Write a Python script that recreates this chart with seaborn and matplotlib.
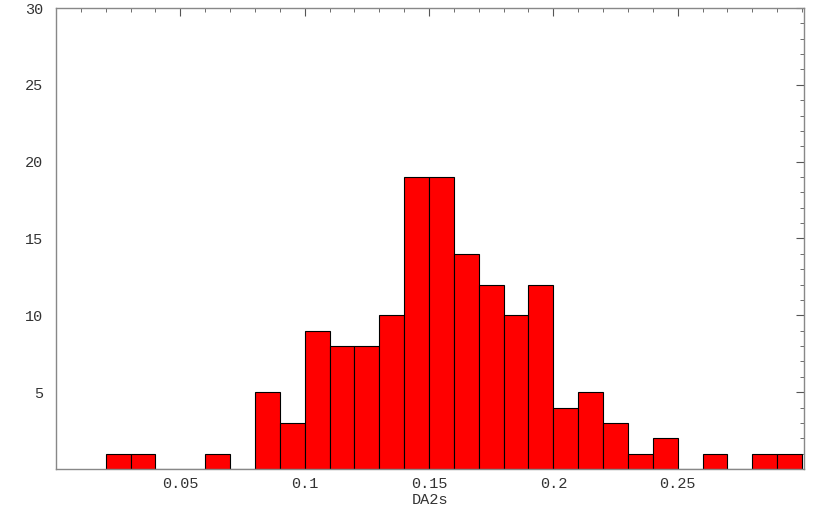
import numpy as np
import pandas as pd
import matplotlib
matplotlib.use("Agg")
import matplotlib.pyplot as plt
import seaborn as sns
from matplotlib.ticker import MultipleLocator

# bin edges and counts
bin_lo = [0.02, 0.03, 0.04, 0.05, 0.06, 0.07, 0.08, 0.09, 0.10, 0.11,
          0.12, 0.13, 0.14, 0.15, 0.16, 0.17, 0.18, 0.19, 0.20, 0.21,
          0.22, 0.23, 0.24, 0.25, 0.26, 0.27, 0.28, 0.29]
counts = [1, 1, 0, 0, 1, 0, 5, 3, 9, 8,
          8, 10, 19, 19, 14, 12, 10, 12, 4, 5,
          3, 1, 2, 0, 1, 0, 1, 1]
xticks = [0.05, 0.1, 0.15, 0.2, 0.25]
xtick_labels = ["0.05", "0.1", "0.15", "0.2", "0.25"]
yticks = [5, 10, 15, 20, 25, 30]

width = 0.01
df = pd.DataFrame({"DA2s": np.array(bin_lo) + width / 2, "n": counts})

sns.set_style("white")
plt.rcParams["font.family"] = ["Liberation Mono", "DejaVu Sans Mono"]

fig = plt.figure(figsize=(8.3, 5.13), dpi=100)
ax = fig.add_axes([0.0675, 0.0858, 0.9012, 0.8986])

sns.histplot(data=df, x="DA2s", weights="n", binwidth=width,
             binrange=(bin_lo[0], bin_lo[-1] + width), ax=ax,
             color="#ff0000", alpha=1, edgecolor="black", linewidth=0.8)

ax.set_xlim(0, 0.3008)
ax.set_ylim(0, 30)
ax.set_xticks(xticks)
ax.set_xticklabels(xtick_labels)
ax.set_yticks(yticks)
ax.xaxis.set_minor_locator(MultipleLocator(0.01))
ax.yaxis.set_minor_locator(MultipleLocator(1))
ax.tick_params(which="both", direction="in", top=True, right=True,
               color="#555555", labelsize=11, labelcolor="#333333")
ax.tick_params(axis="x", pad=6)
ax.tick_params(axis="y", pad=9)
ax.tick_params(which="major", length=6, width=0.8)
ax.tick_params(which="minor", length=3, width=0.6)
for s in ax.spines.values():
    s.set_color("#888888")
    s.set_linewidth(1.0)
ax.set_ylabel("")
ax.set_xlabel("DA2s", fontsize=11, color="#333333", labelpad=1)

fig.savefig("out.png", dpi=100)
